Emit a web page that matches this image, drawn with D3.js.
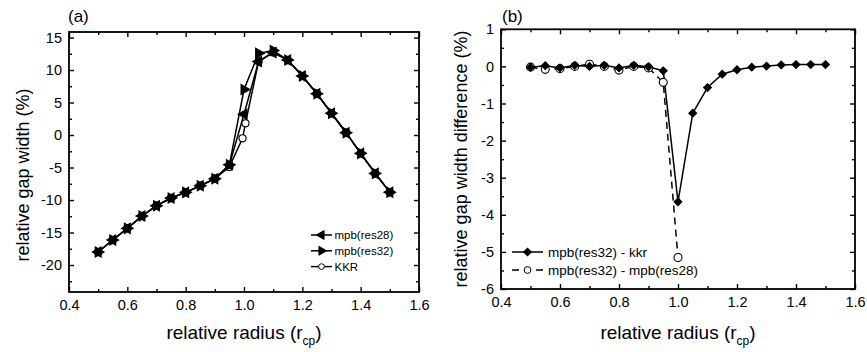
<!DOCTYPE html>
<html lang="en">
<head>
	<meta charset="UTF-8">
	<title>gap width</title>
	<style>
		body { margin: 0; background: #fff; }
		text { font-family: "Liberation Sans", Arial, sans-serif; fill: #000; }
	</style>
</head>
<body>
	<svg id="cont" width="867" height="352"></svg>
</body>
<script src="https://cdn.jsdelivr.net/npm/d3@7"></script>
<script>
	// panel (a) data
	let radiusA = [0.5, 0.55, 0.6, 0.65, 0.7, 0.75, 0.8, 0.85, 0.9, 0.95, 1.0, 1.05, 1.1, 1.15, 1.2, 1.25, 1.3, 1.35, 1.4, 1.45, 1.5];
	let res28 = [-18.0, -16.15, -14.36, -12.46, -10.87, -9.69, -8.82, -7.8, -6.72, -4.57, 3.2, 11.3, 12.7, 11.54, 9.08, 6.36, 3.34, 0.36, -2.82, -5.9, -8.8];
	let res32 = [-18.0, -16.15, -14.36, -12.46, -10.87, -9.69, -8.82, -7.8, -6.72, -4.57, 7.0, 12.57, 13.0, 11.54, 9.08, 6.36, 3.34, 0.36, -2.82, -5.9, -8.8];
	let radiusKkr = [0.5, 0.55, 0.6, 0.65, 0.7, 0.75, 0.8, 0.85, 0.9, 0.95, 0.995, 1.005, 1.05, 1.1, 1.15, 1.2, 1.25, 1.3, 1.35, 1.4, 1.45, 1.5];
	let kkr = [-18.0, -16.15, -14.36, -12.46, -10.87, -9.69, -8.82, -7.8, -6.72, -4.9, -0.5, 1.8, 11.3, 12.7, 11.54, 9.08, 6.36, 3.34, 0.36, -2.82, -5.9, -8.8];

	// panel (b) data
	let radiusB = [0.5, 0.55, 0.6, 0.65, 0.7, 0.75, 0.8, 0.85, 0.9, 0.95, 1.0, 1.05, 1.1, 1.15, 1.2, 1.25, 1.3, 1.35, 1.4, 1.45, 1.5];
	let diffKkr = [-0.02, 0.02, -0.04, 0.03, 0.0, 0.03, -0.04, 0.03, -0.01, -0.12, -3.65, -1.26, -0.57, -0.21, -0.09, -0.02, 0.01, 0.04, 0.05, 0.05, 0.05];
	let radiusRes = [0.5, 0.55, 0.6, 0.65, 0.7, 0.75, 0.8, 0.85, 0.9, 0.95, 1.0];
	let diffRes = [-0.02, -0.08, -0.06, 0.0, 0.06, 0.0, -0.1, 0.0, -0.04, -0.43, -5.15];

	// ticks
	let xTicks = [0.4, 0.6, 0.8, 1.0, 1.2, 1.4, 1.6];
	let xMinor = [0.5, 0.7, 0.9, 1.1, 1.3, 1.5];
	let yTicksA = [-20, -15, -10, -5, 0, 5, 10, 15];
	let yMinorA = [-22.5, -17.5, -12.5, -7.5, -2.5, 2.5, 7.5, 12.5];
	let yTicksB = [-6, -5, -4, -3, -2, -1, 0, 1];
	let yMinorB = [-5.5, -4.5, -3.5, -2.5, -1.5, -0.5, 0.5];

	let svg = d3.select("#cont");

	function frame(x, y, yMajor, yMinor)
	{
		let [x0, x1] = x.range();
		let [y0, y1] = y.range();
		let g = svg.append("g");
		let ax = [];
		ax.push(g.append("g").attr("transform", `translate(0,${y0})`)
			.call(d3.axisBottom(x).tickValues(xTicks).tickSize(-5).tickPadding(8).tickFormat(d3.format(".1f"))));
		ax.push(g.append("g").attr("transform", `translate(0,${y0})`)
			.call(d3.axisBottom(x).tickValues(xMinor).tickSize(-3).tickFormat("")));
		ax.push(g.append("g").attr("transform", `translate(0,${y1})`)
			.call(d3.axisTop(x).tickValues(xTicks).tickSize(-5).tickFormat("")));
		ax.push(g.append("g").attr("transform", `translate(0,${y1})`)
			.call(d3.axisTop(x).tickValues(xMinor).tickSize(-3).tickFormat("")));
		// plain hyphen for negatives, like the original
		ax.push(g.append("g").attr("transform", `translate(${x0},0)`)
			.call(d3.axisLeft(y).tickValues(yMajor).tickSize(-5).tickPadding(7).tickFormat(d => String(d))));
		ax.push(g.append("g").attr("transform", `translate(${x0},0)`)
			.call(d3.axisLeft(y).tickValues(yMinor).tickSize(-3).tickFormat("")));
		ax.push(g.append("g").attr("transform", `translate(${x1},0)`)
			.call(d3.axisRight(y).tickValues(yMajor).tickSize(-5).tickFormat("")));
		ax.push(g.append("g").attr("transform", `translate(${x1},0)`)
			.call(d3.axisRight(y).tickValues(yMinor).tickSize(-3).tickFormat("")));
		ax.forEach(a => {
			a.select(".domain").remove();
			a.selectAll("line").attr("stroke", "#000").attr("stroke-width", 1.4);
			a.selectAll("text").attr("font-size", "14.5px").attr("font-family", "'Liberation Sans', Arial, sans-serif");
		});
		g.append("rect")
			.attr("x", x0).attr("y", y1)
			.attr("width", x1 - x0).attr("height", y0 - y1)
			.attr("fill", "none").attr("stroke", "#000").attr("stroke-width", 1.8);
	}

	function xTitle(cx, yb)
	{
		let t = svg.append("text").attr("x", cx).attr("y", yb)
			.attr("text-anchor", "middle").attr("font-size", "19px");
		t.append("tspan").text("relative radius (r");
		t.append("tspan").text("cp").attr("font-size", "12px").attr("dy", 6);
		t.append("tspan").text(")").attr("dy", -6);
	}

	function yTitle(xb, cy, label)
	{
		svg.append("text")
			.attr("transform", `translate(${xb},${cy}) rotate(-90)`)
			.attr("text-anchor", "middle").attr("font-size", "18px")
			.text(label);
	}

	function series(g, x, y, xs, ys, dash)
	{
		let line = d3.line().x((d, i) => x(xs[i])).y(d => y(d));
		g.append("path").datum(ys)
			.attr("d", line).attr("fill", "none")
			.attr("stroke", "#000").attr("stroke-width", 1.5)
			.attr("stroke-dasharray", dash || null);
	}

	function markers(g, x, y, xs, ys, shape, size, rot, fill)
	{
		g.selectAll(null).data(ys).enter()
			.append("path")
			.attr("d", d3.symbol().type(shape).size(size))
			.attr("transform", (d, i) => `translate(${x(xs[i])},${y(d)}) rotate(${rot})`)
			.attr("fill", fill).attr("stroke", "#000").attr("stroke-width", 1.1);
	}

	// ---------- panel (a)
	let xa = d3.scaleLinear().domain([0.4, 1.6]).range([69, 419]);
	let ya = d3.scaleLinear().domain([-24.15, 15.85]).range([292, 32]);
	frame(xa, ya, yTicksA, yMinorA);

	let ga = svg.append("g");
	series(ga, xa, ya, radiusKkr, kkr);
	series(ga, xa, ya, radiusA, res28);
	series(ga, xa, ya, radiusA, res32);
	markers(ga, xa, ya, radiusKkr, kkr, d3.symbolCircle, 40, 0, "#fff");
	markers(ga, xa, ya, radiusA, res28, d3.symbolTriangle, 45, -90, "#000");
	markers(ga, xa, ya, radiusA, res32, d3.symbolTriangle, 45, 90, "#000");

	svg.append("text").attr("x", 68).attr("y", 22).attr("font-size", "17px")
		.attr("font-family", "'Open Sans', sans-serif").text("(a)");
	xTitle(244, 339);
	yTitle(29, 175, "relative gap width (%)");

	// legend (a)
	let legA = [
		{ name: "mpb(res28)", shape: d3.symbolTriangle, rot: -90, fill: "#000", size: 34 },
		{ name: "mpb(res32)", shape: d3.symbolTriangle, rot: 90, fill: "#000", size: 34 },
		{ name: "KKR", shape: d3.symbolCircle, rot: 0, fill: "#fff", size: 26 }
	];
	legA.forEach((d, i) => {
		let yy = 235 + i * 15.8;
		svg.append("line").attr("x1", 311).attr("x2", 332).attr("y1", yy).attr("y2", yy)
			.attr("stroke", "#000").attr("stroke-width", 1.5);
		svg.append("path").attr("d", d3.symbol().type(d.shape).size(d.size))
			.attr("transform", `translate(321.5,${yy}) rotate(${d.rot})`)
			.attr("fill", d.fill).attr("stroke", "#000").attr("stroke-width", 1);
		svg.append("text").attr("x", 334.5).attr("y", yy + 4).attr("font-size", "11.5px").text(d.name);
	});

	// ---------- panel (b)
	let xb = d3.scaleLinear().domain([0.4, 1.6]).range([501, 855]);
	let yb = d3.scaleLinear().domain([-6, 1]).range([289, 29.3]);
	frame(xb, yb, yTicksB, yMinorB);

	let gb = svg.append("g");
	series(gb, xb, yb, radiusRes, diffRes, "7,5");
	series(gb, xb, yb, radiusB, diffKkr);
	markers(gb, xb, yb, radiusRes, diffRes, d3.symbolCircle, 50, 0, "#fff");
	markers(gb, xb, yb, radiusB, diffKkr, d3.symbolSquare, 30, 45, "#000");

	svg.append("text").attr("x", 502).attr("y", 22).attr("font-size", "17px")
		.attr("font-family", "'Open Sans', sans-serif").text("(b)");
	xTitle(678, 339);
	yTitle(466.5, 159, "relative gap width difference (%)");

	// legend (b)
	let legB = [
		{ name: "mpb(res32) - kkr", shape: d3.symbolSquare, rot: 45, fill: "#000", size: 30, dash: null },
		{ name: "mpb(res32) - mpb(res28)", shape: d3.symbolCircle, rot: 0, fill: "#fff", size: 36, dash: "7,5" }
	];
	legB.forEach((d, i) => {
		let yy = 252 + i * 18;
		svg.append("line").attr("x1", 512).attr("x2", 543).attr("y1", yy).attr("y2", yy)
			.attr("stroke", "#000").attr("stroke-width", 1.5).attr("stroke-dasharray", d.dash);
		svg.append("path").attr("d", d3.symbol().type(d.shape).size(d.size))
			.attr("transform", `translate(527.5,${yy}) rotate(${d.rot})`)
			.attr("fill", d.fill).attr("stroke", "#000").attr("stroke-width", 1);
		svg.append("text").attr("x", 548).attr("y", yy + 5).attr("font-size", "13.5px").text(d.name);
	});
</script>
</html>
